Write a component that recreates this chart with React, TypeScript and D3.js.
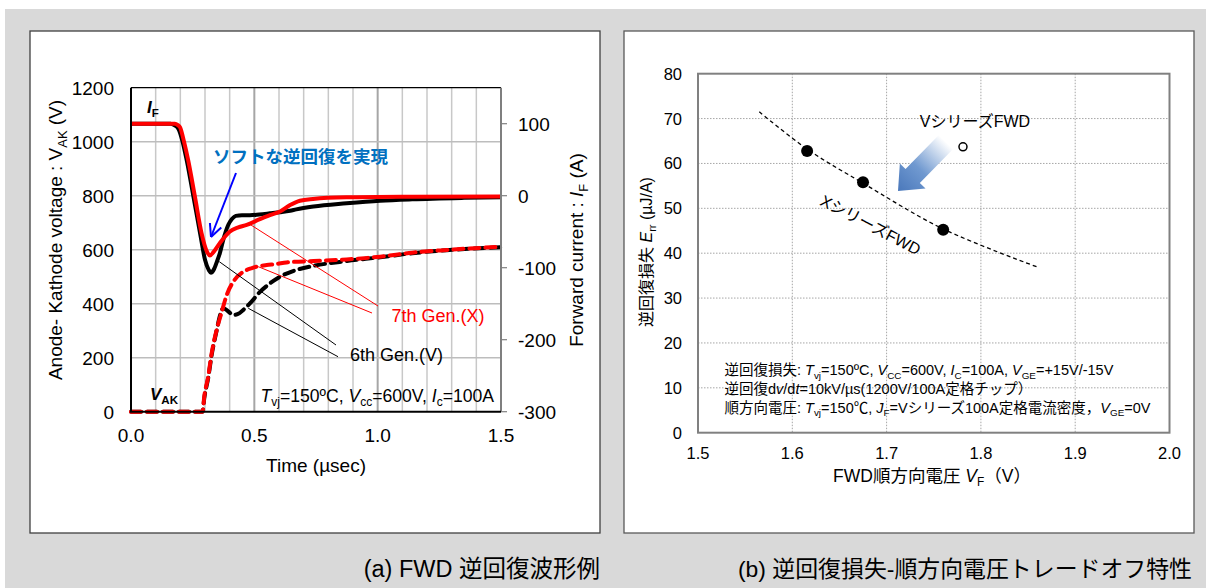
import React, { useEffect, useRef } from 'react'
import * as d3 from 'd3'

// ---- (a) reverse recovery waveform ----
const timeTicks = [0, 0.5, 1.0, 1.5]
const vakTicks = [0, 200, 400, 600, 800, 1000, 1200]
const ifTicks = [-300, -200, -100, 0, 100]

// forward current I_F (A), 6th gen (V series)
const if6Time = [0, 0.16, 0.175, 0.192, 0.21, 0.226, 0.253, 0.28, 0.3, 0.315, 0.324, 0.335, 0.35, 0.36, 0.375, 0.395, 0.41, 0.425, 0.45, 0.482, 0.52, 0.563, 0.604, 0.645, 0.67, 0.74, 0.874, 1.01, 1.14, 1.35, 1.5]
const if6Amp = [100, 100, 98, 93, 74, 49, -1, -52, -89, -103, -107, -103, -90, -80, -60, -40, -32, -28, -27, -27, -26, -24.5, -23, -21, -19, -15, -10.6, -7, -5, -3, -2]
// forward current I_F (A), 7th gen (X series)
const if7Time = [0, 0.178, 0.19, 0.199, 0.215, 0.232, 0.259, 0.286, 0.307, 0.32, 0.335, 0.36, 0.4, 0.435, 0.469, 0.52, 0.563, 0.604, 0.645, 0.685, 0.738, 0.874, 1.14, 1.5]
const if7Amp = [100, 100, 98, 95, 75, 49, -1, -52, -77, -83, -78, -66, -50, -44, -40.5, -33, -27, -22, -13, -7, -4.6, -2.3, -1.4, -1]
// anode-kathode voltage V_AK (V)
const vak6Time = [0, 0.29, 0.297, 0.313, 0.327, 0.347, 0.362, 0.374, 0.39, 0.415, 0.44, 0.455, 0.482, 0.523, 0.563, 0.604, 0.66, 0.74, 0.874, 1.01, 1.14, 1.28, 1.5]
const vak6Volt = [0, 0, 50, 125, 210, 300, 360, 383, 375, 358, 365, 377, 401, 444, 475, 500, 522, 540, 558, 572, 587, 598, 609]
const vak7Time = [0, 0.29, 0.297, 0.313, 0.327, 0.347, 0.368, 0.388, 0.42, 0.455, 0.49, 0.515, 0.55, 0.59, 0.63, 0.74, 0.874, 1.01, 1.14, 1.28, 1.5]
const vak7Volt = [0, 0, 56, 130, 216, 302, 370, 432, 488, 518, 532, 538, 543, 547, 553, 558, 564, 574, 589, 599, 611]

// ---- (b) Err - VF trade-off ----
const vfTicks = [1.5, 1.6, 1.7, 1.8, 1.9, 2.0]
const errTicks = [0, 10, 20, 30, 40, 50, 60, 70, 80]
const xSeriesVf = [1.6157, 1.675, 1.76]
const xSeriesErr = [62.8, 55.8, 45.2]
const vSeriesVf = [1.781]
const vSeriesErr = [63.7]
const trendVf = [1.565, 1.6157, 1.675, 1.76, 1.859]
const trendErr = [71.5, 63.2, 55.6, 45.4, 37.0]

const FONT = "'Liberation Sans', Arial, 'Noto Sans CJK JP', sans-serif"

type Part = [string, string?]

// write text made of parts: flags i = italic, b = bold, s = subscript
function rich(sel: any, parts: Part[], size: number) {
  let wasSub = false
  parts.forEach(([s, f = '']) => {
    const sub = f.includes('s')
    const ts = sel.append('tspan').text(s)
    if (f.includes('i')) ts.attr('font-style', 'italic')
    if (f.includes('b')) ts.attr('font-weight', 'bold')
    if (sub) {
      ts.attr('font-size', size * 0.68)
      if (!wasSub) ts.attr('dy', size * 0.25)
    } else if (wasSub) {
      ts.attr('dy', -size * 0.25)
    }
    wasSub = sub
  })
  return sel
}

export default function App() {
  const svgRef = useRef<SVGSVGElement | null>(null)

  useEffect(() => {
    if (!svgRef.current) return
    const svg = d3.select(svgRef.current)
    svg.selectAll('*').remove()
    svg.attr('width', 1206).attr('height', 588).style('font-family', FONT)

    // background and panels
    svg.append('rect').attr('width', 1206).attr('height', 588).attr('fill', '#fff')
    svg.append('rect').attr('x', 5).attr('y', 9).attr('width', 1201).attr('height', 579).attr('fill', '#d9d9d9')
    svg.append('rect').attr('x', 30).attr('y', 31).attr('width', 570).attr('height', 502)
      .attr('fill', '#fff').attr('stroke', '#404040').attr('stroke-width', 1.3)
    svg.append('rect').attr('x', 624).attr('y', 31).attr('width', 570).attr('height', 502)
      .attr('fill', '#fff').attr('stroke', '#595959').attr('stroke-width', 1.3)

    // ================= (a) =================
    const a = svg.append('g')
    const x = d3.scaleLinear().domain([0, 1.5]).range([131, 501])
    const yV = d3.scaleLinear().domain([0, 1200]).range([411.7, 87.7])
    const yI = d3.scaleLinear().domain([-300, 150]).range([411.7, 87.7])

    // grid
    d3.range(1, 15).map(i => i / 10).forEach(t => {
      const major = Math.abs(t - 0.5) < 1e-6 || Math.abs(t - 1.0) < 1e-6
      a.append('line').attr('x1', x(t)).attr('x2', x(t)).attr('y1', yV(1200)).attr('y2', yV(0))
        .attr('stroke', major ? '#a6a6a6' : '#c8c8c8').attr('stroke-width', major ? 2 : 1.5)
    })
    vakTicks.slice(1, -1).forEach(v => {
      a.append('line').attr('x1', x(0)).attr('x2', x(1.5)).attr('y1', yV(v)).attr('y2', yV(v))
        .attr('stroke', '#bdbdbd').attr('stroke-width', 1.5)
    })

    const lineV = d3.line<[number, number]>().x(d => x(d[0])).y(d => yV(d[1])).curve(d3.curveMonotoneX)
    const lineI = d3.line<[number, number]>().x(d => x(d[0])).y(d => yI(d[1])).curve(d3.curveMonotoneX)

    a.append('path').attr('d', lineV(d3.zip(vak6Time, vak6Volt) as [number, number][]))
      .attr('fill', 'none').attr('stroke', '#000').attr('stroke-width', 4)
      .attr('stroke-dasharray', '10,6').attr('stroke-linecap', 'round')
    a.append('path').attr('d', lineV(d3.zip(vak7Time, vak7Volt) as [number, number][]))
      .attr('fill', 'none').attr('stroke', '#ff0000').attr('stroke-width', 4)
      .attr('stroke-dasharray', '10,6').attr('stroke-linecap', 'round')
    a.append('path').attr('d', lineI(d3.zip(if6Time, if6Amp) as [number, number][]))
      .attr('fill', 'none').attr('stroke', '#000').attr('stroke-width', 4)
    a.append('path').attr('d', lineI(d3.zip(if7Time, if7Amp) as [number, number][]))
      .attr('fill', 'none').attr('stroke', '#ff0000').attr('stroke-width', 4)

    // leader lines
    const leaders: [number, number, number, number, string][] = [
      [248.3, 223.3, 378, 306, '#ff0000'],
      [258.3, 266.7, 372, 313, '#ff0000'],
      [219.3, 261.7, 336, 345, '#000'],
      [248.3, 308.3, 338, 356.7, '#000'],
    ]
    leaders.forEach(([x1, y1, x2, y2, c]) => {
      a.append('line').attr('x1', x1).attr('y1', y1).attr('x2', x2).attr('y2', y2)
        .attr('stroke', c).attr('stroke-width', 1)
    })

    // border
    a.append('line').attr('x1', x(0)).attr('x2', x(1.5)).attr('y1', yV(1200)).attr('y2', yV(1200)).attr('stroke', '#000').attr('stroke-width', 1.2)
    a.append('line').attr('x1', x(1.5)).attr('x2', x(1.5)).attr('y1', yV(1200)).attr('y2', yV(0)).attr('stroke', '#7f7f7f').attr('stroke-width', 2)
    a.append('line').attr('x1', x(0)).attr('x2', x(0)).attr('y1', yV(1200)).attr('y2', yV(0)).attr('stroke', '#000').attr('stroke-width', 2)
    a.append('line').attr('x1', x(0) - 1).attr('x2', x(1.5)).attr('y1', yV(0)).attr('y2', yV(0)).attr('stroke', '#000').attr('stroke-width', 2)
    ifTicks.forEach(v => {
      a.append('line').attr('x1', x(1.5)).attr('x2', x(1.5) + 6).attr('y1', yI(v)).attr('y2', yI(v))
        .attr('stroke', '#7f7f7f').attr('stroke-width', 1.2)
    })

    // tick labels
    vakTicks.forEach(v => {
      a.append('text').attr('x', 114).attr('y', yV(v) + 7).attr('text-anchor', 'end')
        .attr('font-size', 19).attr('fill', '#000').text(v)
    })
    ifTicks.forEach(v => {
      a.append('text').attr('x', 518).attr('y', yI(v) + 7)
        .attr('font-size', 19).attr('fill', '#000').text(v)
    })
    timeTicks.forEach(t => {
      a.append('text').attr('x', x(t)).attr('y', 442).attr('text-anchor', 'middle')
        .attr('font-size', 19).attr('fill', '#000').text(t.toFixed(1))
    })

    a.append('text').attr('x', 316).attr('y', 472).attr('text-anchor', 'middle')
      .attr('font-size', 19).text('Time (µsec)')
    rich(a.append('text').attr('transform', 'translate(62,240) rotate(-90)').attr('text-anchor', 'middle').attr('font-size', 19),
      [['Anode- Kathode voltage : V'], ['AK', 's'], [' (V)']], 19)
    rich(a.append('text').attr('transform', 'translate(583,250) rotate(-90)').attr('text-anchor', 'middle').attr('font-size', 19),
      [['Forward current : '], ['I', 'i'], ['F', 's'], [' (A)']], 19)

    rich(a.append('text').attr('x', 147).attr('y', 113).attr('font-size', 17),
      [['I', 'ib'], ['F', 'bs']], 17)
    rich(a.append('text').attr('x', 150).attr('y', 400).attr('font-size', 17),
      [['V', 'ib'], ['AK', 'bs']], 17)
    rich(a.append('text').attr('x', 494).attr('y', 402).attr('text-anchor', 'end').attr('font-size', 17.6),
      [['T', 'i'], ['vj', 's'], ['=150ºC, '], ['V', 'i'], ['cc', 's'], ['=600V, '], ['I', 'i'], ['c', 's'], ['=100A']], 17.6)

    a.append('text').attr('x', 391.5).attr('y', 322).attr('font-size', 18).attr('fill', '#ff0000').text('7th Gen.(X)')
    a.append('text').attr('x', 350).attr('y', 361).attr('font-size', 18).attr('fill', '#000').text('6th Gen.(V)')

    a.append('text').attr('x', 213).attr('y', 163).attr('font-size', 17.5).attr('font-weight', 'bold')
      .attr('fill', '#0070c0').text('ソフトな逆回復を実現')

    // blue arrow
    const ax0 = 236, ay0 = 173, ax1 = 211, ay1 = 237
    const ang = Math.atan2(ay1 - ay0, ax1 - ax0)
    a.append('line').attr('x1', ax0).attr('y1', ay0).attr('x2', ax1).attr('y2', ay1)
      .attr('stroke', '#0000ff').attr('stroke-width', 2)
    ;[-0.45, 0.45].forEach(d => {
      a.append('line').attr('x1', ax1).attr('y1', ay1)
        .attr('x2', ax1 - 14 * Math.cos(ang + d)).attr('y2', ay1 - 14 * Math.sin(ang + d))
        .attr('stroke', '#0000ff').attr('stroke-width', 2)
    })

    // ================= (b) =================
    const b = svg.append('g')
    const xb = d3.scaleLinear().domain([1.5, 2.0]).range([698, 1169.5])
    const yb = d3.scaleLinear().domain([0, 80]).range([432.7, 73.7])

    vfTicks.slice(1, -1).forEach(v => {
      b.append('line').attr('x1', xb(v)).attr('x2', xb(v)).attr('y1', yb(80)).attr('y2', yb(0))
        .attr('stroke', '#a6a6a6').attr('stroke-dasharray', '1.5,1.5')
    })
    errTicks.slice(1, -1).forEach(v => {
      b.append('line').attr('x1', xb(1.5)).attr('x2', xb(2.0)).attr('y1', yb(v)).attr('y2', yb(v))
        .attr('stroke', '#a6a6a6').attr('stroke-dasharray', '1.5,1.5')
    })
    b.append('rect').attr('x', xb(1.5)).attr('y', yb(80)).attr('width', xb(2.0) - xb(1.5)).attr('height', yb(0) - yb(80))
      .attr('fill', 'none').attr('stroke', '#808080').attr('stroke-width', 2)

    errTicks.forEach(v => {
      b.append('text').attr('x', 682).attr('y', yb(v) + 6).attr('text-anchor', 'end')
        .attr('font-size', 16.5).text(v)
    })
    vfTicks.forEach(v => {
      b.append('text').attr('x', xb(v)).attr('y', 458.5).attr('text-anchor', 'middle')
        .attr('font-size', 16.5).text(v.toFixed(1))
    })

    const trend = d3.line<[number, number]>().x(d => xb(d[0])).y(d => yb(d[1])).curve(d3.curveCatmullRom)
    b.append('path').attr('d', trend(d3.zip(trendVf, trendErr) as [number, number][]))
      .attr('fill', 'none').attr('stroke', '#000').attr('stroke-width', 1.3).attr('stroke-dasharray', '4,3')

    xSeriesVf.forEach((v, i) => {
      b.append('circle').attr('cx', xb(v)).attr('cy', yb(xSeriesErr[i])).attr('r', 6).attr('fill', '#000')
    })
    vSeriesVf.forEach((v, i) => {
      b.append('circle').attr('cx', xb(v)).attr('cy', yb(vSeriesErr[i])).attr('r', 4)
        .attr('fill', '#fff').attr('stroke', '#000').attr('stroke-width', 1.5)
    })

    // gradient arrow
    const tail: [number, number] = [946, 142]
    const tip: [number, number] = [898, 191]
    const len = Math.hypot(tip[0] - tail[0], tip[1] - tail[1])
    const ux = (tip[0] - tail[0]) / len, uy = (tip[1] - tail[1]) / len
    const nx = -uy, ny = ux
    const hb: [number, number] = [tip[0] - ux * 21, tip[1] - uy * 21]
    const pts: [number, number][] = [
      [tail[0] + nx * 10, tail[1] + ny * 10],
      [hb[0] + nx * 10, hb[1] + ny * 10],
      [hb[0] + nx * 18, hb[1] + ny * 18],
      tip,
      [hb[0] - nx * 18, hb[1] - ny * 18],
      [hb[0] - nx * 10, hb[1] - ny * 10],
      [tail[0] - nx * 10, tail[1] - ny * 10],
    ]
    const grad = svg.append('defs').append('linearGradient').attr('id', 'arrowGrad')
      .attr('gradientUnits', 'userSpaceOnUse')
      .attr('x1', tail[0]).attr('y1', tail[1]).attr('x2', tip[0]).attr('y2', tip[1])
    grad.append('stop').attr('offset', 0).attr('stop-color', '#ffffff')
    grad.append('stop').attr('offset', 0.55).attr('stop-color', '#7099d0')
    grad.append('stop').attr('offset', 1).attr('stop-color', '#4a78bb')
    b.append('polygon').attr('points', pts.map(p => p.join(',')).join(' ')).attr('fill', 'url(#arrowGrad)')

    b.append('text').attr('x', 975).attr('y', 127).attr('text-anchor', 'middle').attr('font-size', 16).text('VシリーズFWD')
    b.append('text').attr('transform', 'translate(868,230) rotate(27.6)').attr('text-anchor', 'middle')
      .attr('font-size', 16).text('XシリーズFWD')

    const note = 14.5
    rich(b.append('text').attr('x', 724.5).attr('y', 375).attr('font-size', note),
      [['逆回復損失: '], ['T', 'i'], ['vj', 's'], ['=150ºC, '], ['V', 'i'], ['CC', 's'], ['=600V, '], ['I', 'i'], ['C', 's'], ['=100A, '], ['V', 'i'], ['GE', 's'], ['=+15V/-15V']], note)
    rich(b.append('text').attr('x', 724.5).attr('y', 393.5).attr('font-size', note),
      [['逆回復d'], ['v', 'i'], ['/d'], ['t', 'i'], ['=10kV/µs(1200V/100A定格チップ）']], note)
    rich(b.append('text').attr('x', 724.5).attr('y', 412.5).attr('font-size', note),
      [['順方向電圧: '], ['T', 'i'], ['vj', 's'], ['=150℃, '], ['J', 'i'], ['F', 's'], ['=Vシリーズ100A定格電流密度，'], ['V', 'i'], ['GE', 's'], ['=0V']], note)

    rich(b.append('text').attr('x', 932).attr('y', 482).attr('text-anchor', 'middle').attr('font-size', 17.5),
      [['FWD順方向電圧 '], ['V', 'i'], ['F', 's'], ['（V）']], 17.5)
    rich(b.append('text').attr('transform', 'translate(652,252) rotate(-90)').attr('text-anchor', 'middle').attr('font-size', 16),
      [['逆回復損失 '], ['E', 'i'], ['rr', 's'], [' (µJ/A)']], 16)

    // captions
    svg.append('text').attr('x', 600).attr('y', 577).attr('text-anchor', 'end').attr('font-size', 23.5)
      .text('(a) FWD 逆回復波形例')
    svg.append('text').attr('x', 1192).attr('y', 577).attr('text-anchor', 'end').attr('font-size', 22.9)
      .text('(b)  逆回復損失-順方向電圧トレードオフ特性')
  }, [])

  return <svg ref={svgRef} style={{ position: 'absolute', left: 0, top: 0 }} />
}
